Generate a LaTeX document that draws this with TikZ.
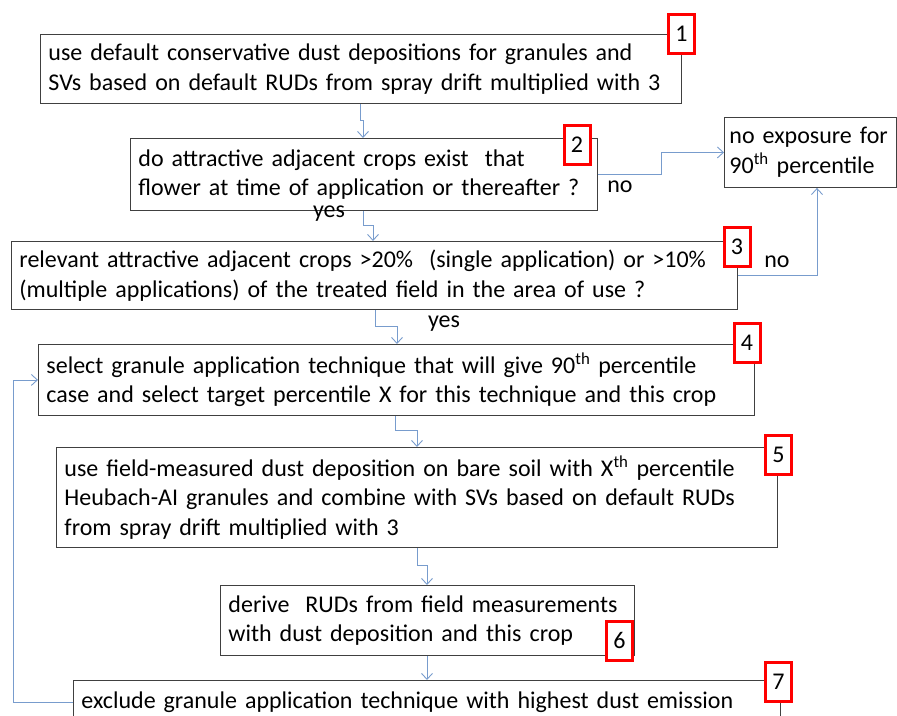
\documentclass[tikz,border=0pt]{standalone}
\usepackage{fontspec}
\setmainfont{Carlito}
\usetikzlibrary{arrows.meta}
\definecolor{linkblue}{RGB}{120,156,205}
\providecommand{\flowFont}{\fontsize{24}{29.5}\selectfont}

\begin{document}
\begin{tikzpicture}[x=1pt, y=-1pt,
  box/.style={draw=black!75, line width=0.9pt, fill=white, anchor=north west,
    align=left, inner xsep=8pt, inner ysep=0pt, font=\flowFont},
  tag/.style={draw=red, line width=3pt, fill=white, minimum width=26pt,
    minimum height=39pt, inner sep=0pt, font=\flowFont},
  link/.style={draw=linkblue, line width=0.9pt, -{Straight Barb[length=6pt,width=11pt]}},
  word/.style={inner sep=0pt, font=\flowFont}]
% Page frame
\useasboundingbox (0,0) rectangle (897,715);
\clip (0,0) rectangle (897,715);
% Steps of the scheme
\node[box, minimum width=641pt, minimum height=69pt, text width=625pt] (b1) at (40,34)
  {use default conservative dust depositions for granules and\\
   SVs based on default RUDs from spray drift multiplied with 3};
\node[box, minimum width=467pt, minimum height=72pt, text width=451pt] (b2) at (130,138)
  {do attractive adjacent crops exist\ \ that\\
   flower at time of application or thereafter ?};
\node[box, minimum width=726pt, minimum height=68pt, text width=710pt] (b3) at (11,241)
  {relevant attractive adjacent crops >20\%\ \ (single application) or >10\%\\
   (multiple applications) of the treated field in the area of use ?};
\node[box, minimum width=716pt, minimum height=71pt, text width=700pt] (b4) at (38,344)
  {select granule application technique that will give 90\textsuperscript{th} percentile\\
   case and select target percentile X for this technique and this crop};
\node[box, minimum width=721pt, minimum height=100pt, text width=705pt] (b5) at (56,447)
  {use field-measured dust deposition on bare soil with X\textsuperscript{th} percentile\\
   Heubach-AI granules and combine with SVs based on default RUDs\\
   from spray drift multiplied with 3};
\node[box, minimum width=414pt, minimum height=70pt, text width=398pt] (b6) at (220,585)
  {derive\ \ RUDs from field measurements\\
   with dust deposition and this crop};
\node[box, minimum width=707pt, minimum height=44pt, text width=691pt] (b7) at (73,680)
  {exclude granule application technique with highest dust emission};
\node[box, minimum width=172pt, minimum height=70pt, text width=162pt, inner xsep=5pt] (nx) at (724,117)
  {no~exposure~for\\
   90\textsuperscript{th} percentile};
% Step numbers
\node[tag] (t1) at (681.5,34) {1};
\node[tag] (t2) at (577,144.5) {2};
\node[tag] (t3) at (737,246.5) {3};
\node[tag] (t4) at (747,343) {4};
\node[tag] (t5) at (778.5,455) {5};
\node[tag] (t6) at (619.5,640.5) {6};
\node[tag] (t7) at (778.5,682) {7};
% Answers
\node[word] (y1) at (329,214) {yes};
\node[word] (y2) at (444,324) {yes};
\node[word] (n1) at (620,187) {no};
\node[word] (n2) at (777,262) {no};
% Connectors
\draw[link] ([xshift=320pt]b1.south west) -- ++(0,17) -| ([xshift=233pt]b2.north west);
\draw[link] ([xshift=233pt]b2.south west) -- ++(0,15) -| ([xshift=362pt]b3.north west);
\draw[link] ([xshift=364pt]b3.south west) -- ++(0,17) -| ([xshift=359pt]b4.north west);
\draw[link] ([xshift=357pt]b4.south west) -- ++(0,15) -| ([xshift=361pt]b5.north west);
\draw[link] ([xshift=361pt]b5.south west) -- ++(0,18) -| ([xshift=207pt]b6.north west);
\draw[link] ([xshift=207pt]b6.south west) -- ([xshift=354pt]b7.north west);
\draw[link] (b2.east) -- ++(64,0) |- (nx.west);
\draw[link] (b3.east) -| ([xshift=93pt]nx.south west);
\draw[link] (b7.west) -- ++(-60,0) |- (b4.west);
\end{tikzpicture}
\end{document}
